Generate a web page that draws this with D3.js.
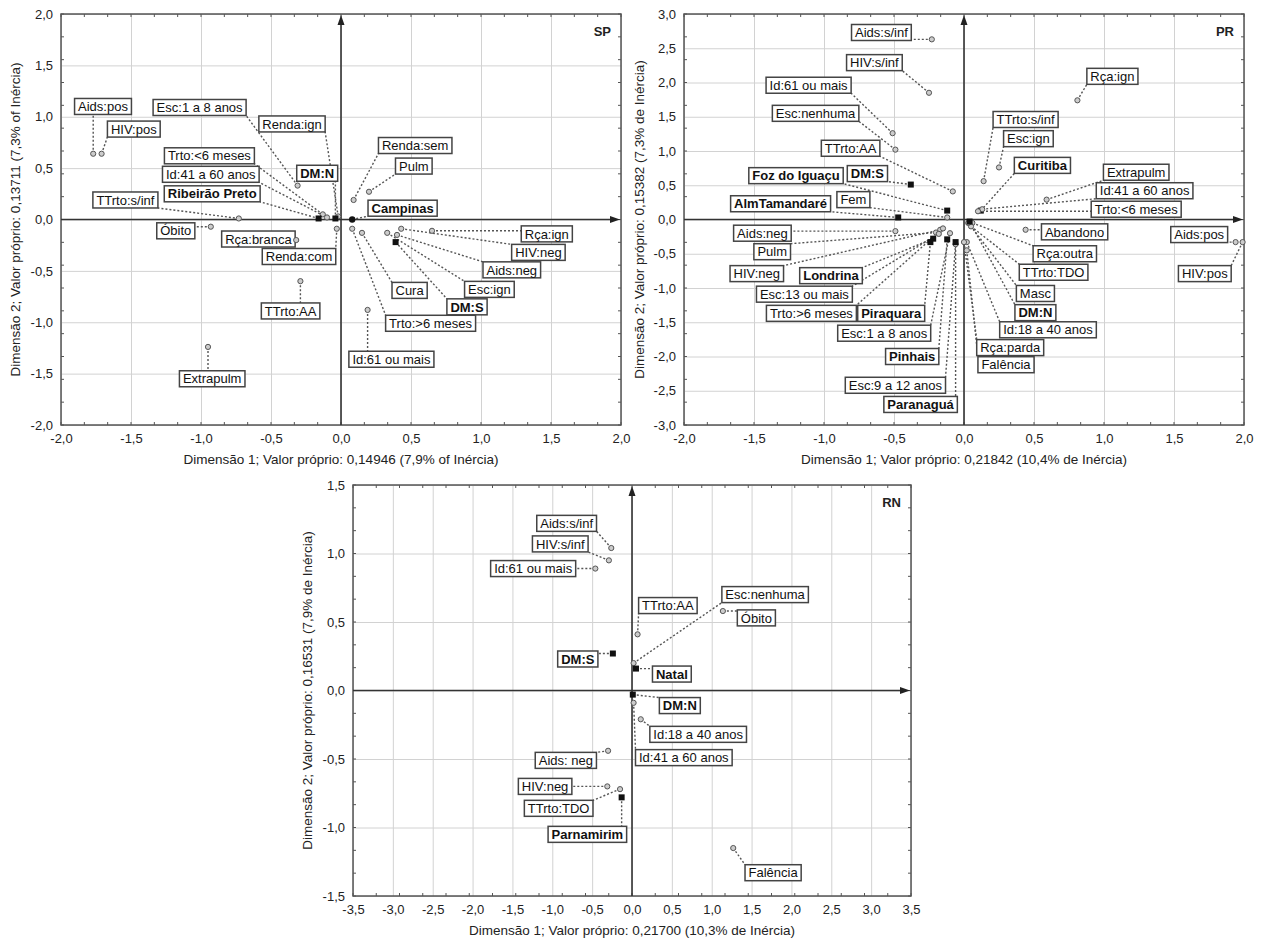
<!DOCTYPE html>
<html>
<head>
<meta charset="utf-8">
<script src="https://cdn.jsdelivr.net/npm/d3@7"></script>
<style>
  body { margin: 0; background: #fff; }
  svg text { font-family: "Liberation Sans", Arial, sans-serif; }
</style>
</head>
<body>
<svg id="chart" width="1262" height="942"></svg>
<script>
// ---- SP ----
var spNames = ["Aids:pos","HIV:pos","Esc:1 a 8 anos","Renda:ign","Trto:<6 meses","Id:41 a 60 anos","Ribeirão Preto","DM:N","TTrto:s/inf","Óbito","Rça:branca","Renda:com","TTrto:AA","Extrapulm","Renda:sem","Pulm","Campinas","Rça:ign","HIV:neg","Aids:neg","Esc:ign","DM:S","Cura","Trto:>6 meses","Id:61 ou mais"];
var spDim1 = [-1.77,-1.71,-0.31,-0.02,-0.13,-0.10,-0.16,-0.04,-0.73,-0.93,-0.32,-0.03,-0.29,-0.95,0.09,0.20,0.08,0.65,0.43,0.40,0.33,0.39,0.15,0.08,0.19];
var spDim2 = [0.64,0.64,0.33,0.03,0.05,0.02,0.01,0.01,0.01,-0.07,-0.20,-0.09,-0.60,-1.24,0.19,0.27,0.00,-0.11,-0.09,-0.15,-0.13,-0.22,-0.13,-0.09,-0.88];
var spLabelAt = [[-1.70,1.10],[-1.48,0.88],[-1.01,1.09],[-0.35,0.93],[-0.94,0.62],[-0.93,0.44],[-0.92,0.25],[-0.17,0.45],[-1.54,0.19],[-1.18,-0.11],[-0.59,-0.19],[-0.30,-0.36],[-0.36,-0.89],[-0.92,-1.55],[0.53,0.72],[0.52,0.52],[0.44,0.11],[1.47,-0.14],[1.41,-0.32],[1.22,-0.49],[1.06,-0.68],[0.90,-0.85],[0.49,-0.69],[0.64,-1.01],[0.36,-1.36]];
var spCities = ["Ribeirão Preto","Campinas","DM:N","DM:S"];

// ---- PR ----
var prNames = ["Aids:s/inf","HIV:s/inf","Id:61 ou mais","Esc:nenhuma","TTrto:AA","DM:S","Foz do Iguaçu","Fem","AlmTamandaré","Aids:neg","Pulm","HIV:neg","Londrina","Esc:13 ou mais","Trto:>6 meses","Piraquara","Esc:1 a 8 anos","Pinhais","Esc:9 a 12 anos","Paranaguá","Rça:ign","TTrto:s/inf","Esc:ign","Curitiba","Extrapulm","Id:41 a 60 anos","Trto:<6 meses","Abandono","Rça:outra","TTrto:TDO","Masc","DM:N","Id:18 a 40 anos","Rça:parda","Falência","Aids:pos","HIV:pos"];
var prDim1 = [-0.23,-0.25,-0.51,-0.49,-0.08,-0.38,-0.12,-0.12,-0.47,-0.49,-0.20,-0.17,-0.22,-0.18,-0.15,-0.24,-0.10,-0.12,-0.06,-0.06,0.81,0.14,0.25,0.12,0.59,0.13,0.10,0.44,0.06,0.05,0.03,0.04,0.02,0.00,0.02,1.94,1.99];
var prDim2 = [2.63,1.85,1.26,1.02,0.41,0.51,0.13,0.03,0.03,-0.17,-0.19,-0.15,-0.28,-0.21,-0.13,-0.33,-0.20,-0.29,-0.36,-0.33,1.74,0.56,0.76,0.13,0.29,0.15,0.12,-0.15,-0.05,-0.10,-0.05,-0.03,-0.33,-0.33,-0.45,-0.33,-0.33];
var prLabelAt = [[-0.59,2.73],[-0.64,2.29],[-1.11,1.96],[-1.06,1.55],[-0.81,1.04],[-0.69,0.67],[-1.20,0.64],[-0.79,0.29],[-1.31,0.23],[-1.44,-0.20],[-1.37,-0.47],[-1.48,-0.79],[-0.95,-0.82],[-1.14,-1.09],[-1.09,-1.37],[-0.52,-1.37],[-0.57,-1.66],[-0.37,-2.00],[-0.49,-2.42],[-0.31,-2.70],[1.06,2.09],[0.44,1.46],[0.46,1.18],[0.56,0.79],[1.23,0.69],[1.29,0.42],[1.23,0.15],[0.79,-0.18],[0.72,-0.50],[0.64,-0.77],[0.51,-1.08],[0.51,-1.36],[0.60,-1.61],[0.33,-1.87],[0.30,-2.12],[1.68,-0.22],[1.72,-0.79]];
var prCities = ["DM:S","DM:N","Foz do Iguaçu","AlmTamandaré","Londrina","Piraquara","Pinhais","Paranaguá","Curitiba"];

// ---- RN ----
var rnNames = ["Aids:s/inf","HIV:s/inf","Id:61 ou mais","DM:S","TTrto:AA","Esc:nenhuma","Óbito","Natal","DM:N","Id:18 a 40 anos","Id:41 a 60 anos","Aids: neg","HIV:neg","TTrto:TDO","Parnamirim","Falência"];
var rnDim1 = [-0.26,-0.29,-0.46,-0.24,0.07,0.02,1.14,0.05,0.01,0.11,0.02,-0.30,-0.31,-0.15,-0.13,1.27];
var rnDim2 = [1.04,0.95,0.89,0.27,0.41,0.20,0.58,0.16,-0.03,-0.21,-0.09,-0.44,-0.70,-0.72,-0.78,-1.15];
var rnLabelAt = [[-0.82,1.22],[-0.90,1.07],[-1.24,0.89],[-0.68,0.23],[0.45,0.62],[1.67,0.70],[1.56,0.53],[0.50,0.12],[0.60,-0.11],[0.83,-0.32],[0.65,-0.49],[-0.83,-0.51],[-1.09,-0.70],[-0.92,-0.86],[-0.56,-1.05],[1.77,-1.33]];
var rnCities = ["DM:S","DM:N","Natal","Parnamirim"];

var ticks4 = [-2,-1.5,-1,-0.5,0,0.5,1,1.5,2];
var ticks6 = [-3,-2.5,-2,-1.5,-1,-0.5,0,0.5,1,1.5,2,2.5,3];
var ticks7 = [-3.5,-3,-2.5,-2,-1.5,-1,-0.5,0,0.5,1,1.5,2,2.5,3,3.5];
var ticks3 = [-1.5,-1,-0.5,0,0.5,1,1.5];

var fmt = function (v) { return d3.format(".1f")(v).replace(".", ",").replace("−", "-"); };
var svg = d3.select("#chart");

function styleAxis(a) {
  a.select(".domain").remove();
  a.selectAll("line").attr("stroke", "#d2d2d2").attr("stroke-width", 1);
  a.selectAll("text").attr("fill", "#222").style("font-size", "13px");
}

function panel(p) {
  var x = d3.scaleLinear().domain(p.xDomain).range([p.left, p.left + p.width]);
  var y = d3.scaleLinear().domain(p.yDomain).range([p.top + p.height, p.top]);
  var g = svg.append("g");

  // grid and tick labels
  g.append("g")
    .attr("transform", "translate(0," + (p.top + p.height) + ")")
    .call(d3.axisBottom(x).tickValues(p.xTicks).tickSize(-p.height).tickPadding(9).tickFormat(fmt))
    .call(styleAxis);
  g.append("g")
    .attr("transform", "translate(" + p.left + ",0)")
    .call(d3.axisLeft(y).tickValues(p.yTicks).tickSize(-p.width).tickPadding(8).tickFormat(fmt))
    .call(styleAxis);

  // small ticks along the frame
  var nx = Math.round(p.width / 23), ny = Math.round(p.height / 23);
  var mt = g.append("g").attr("stroke", "#555").attr("stroke-width", 1);
  d3.range(nx + 1).forEach(function (i) {
    var px = p.left + i * p.width / nx;
    mt.append("line").attr("x1", px).attr("x2", px).attr("y1", p.top).attr("y2", p.top + 3);
    mt.append("line").attr("x1", px).attr("x2", px).attr("y1", p.top + p.height).attr("y2", p.top + p.height - 3);
  });
  d3.range(ny + 1).forEach(function (i) {
    var py = p.top + i * p.height / ny;
    mt.append("line").attr("y1", py).attr("y2", py).attr("x1", p.left).attr("x2", p.left + 3);
    mt.append("line").attr("y1", py).attr("y2", py).attr("x1", p.left + p.width).attr("x2", p.left + p.width - 3);
  });

  // frame
  g.append("rect")
    .attr("x", p.left).attr("y", p.top)
    .attr("width", p.width).attr("height", p.height)
    .attr("fill", "none").attr("stroke", "#555").attr("stroke-width", 1.5);

  // zero axes with arrows
  var x0 = x(0), y0 = y(0);
  g.append("line").attr("x1", x0).attr("x2", x0).attr("y1", p.top + p.height).attr("y2", p.top + 6)
    .attr("stroke", "#333").attr("stroke-width", 1.6);
  g.append("line").attr("x1", p.left).attr("x2", p.left + p.width - 6).attr("y1", y0).attr("y2", y0)
    .attr("stroke", "#333").attr("stroke-width", 1.6);
  g.append("path")
    .attr("d", "M" + x0 + "," + (p.top + 1) + "L" + (x0 - 3.5) + "," + (p.top + 11) + "L" + (x0 + 3.5) + "," + (p.top + 11) + "Z")
    .attr("fill", "#222");
  g.append("path")
    .attr("d", "M" + (p.left + p.width - 1) + "," + y0 + "L" + (p.left + p.width - 11) + "," + (y0 - 3.5) + "L" + (p.left + p.width - 11) + "," + (y0 + 3.5) + "Z")
    .attr("fill", "#222");

  // panel name
  g.append("text")
    .attr("x", p.left + p.width - 10).attr("y", p.top + 22)
    .attr("text-anchor", "end")
    .style("font-size", "13px").style("font-weight", "bold").attr("fill", "#222")
    .text(p.title);

  // axis titles
  g.append("text")
    .attr("x", p.left + p.width / 2).attr("y", p.top + p.height + 39)
    .attr("text-anchor", "middle")
    .style("font-size", "13.5px").attr("fill", "#222")
    .text(p.xTitle);
  g.append("text")
    .attr("transform", "translate(" + p.yTitleX + "," + (p.top + p.height / 2) + ") rotate(-90)")
    .attr("text-anchor", "middle")
    .style("font-size", "13.5px").attr("fill", "#222")
    .text(p.yTitle);

  var pts = p.names.map(function (n, i) {
    return { name: n, x: p.dim1[i], y: p.dim2[i], lx: p.labelAt[i][0], ly: p.labelAt[i][1], city: p.cities.indexOf(n) >= 0 };
  });

  var leaders = g.append("g");
  var boxes = g.append("g");
  var marks = g.append("g");

  pts.forEach(function (d) {
    var cx = x(d.lx), cy = y(d.ly);
    var lab = boxes.append("g");
    var rect = lab.append("rect");
    var t = lab.append("text")
      .attr("x", cx).attr("y", cy)
      .attr("text-anchor", "middle").attr("dy", "0.36em")
      .style("font-size", "13px").style("font-weight", d.city ? "bold" : "normal")
      .attr("fill", "#111")
      .text(d.name);
    var w = t.node().getComputedTextLength() + 7, h = 16;
    var rx0 = cx - w / 2, ry0 = cy - h / 2;
    rect.attr("x", rx0).attr("y", ry0).attr("width", w).attr("height", h)
      .attr("fill", "#fff").attr("stroke", "#444").attr("stroke-width", 1.5);

    var px = x(d.x), py = y(d.y);
    var ex = Math.max(rx0, Math.min(px, rx0 + w));
    var ey = Math.max(ry0, Math.min(py, ry0 + h));
    leaders.append("line")
      .attr("x1", px).attr("y1", py).attr("x2", ex).attr("y2", ey)
      .attr("stroke", "#555").attr("stroke-width", 1.4).attr("stroke-dasharray", "2,2");

    if (d.city) {
      if (d.name == "Campinas") {
        marks.append("circle").attr("cx", px).attr("cy", py).attr("r", 3.2).attr("fill", "#111");
      } else {
        marks.append("rect").attr("x", px - 3).attr("y", py - 3).attr("width", 6).attr("height", 6).attr("fill", "#111");
      }
    } else {
      marks.append("circle").attr("cx", px).attr("cy", py).attr("r", 2.6)
        .attr("fill", "#ccc").attr("stroke", "#555").attr("stroke-width", 1);
    }
  });
}

panel({
  left: 61, top: 14, width: 560, height: 411,
  xDomain: [-2, 2], yDomain: [-2, 2], xTicks: ticks4, yTicks: ticks4,
  names: spNames, dim1: spDim1, dim2: spDim2, labelAt: spLabelAt, cities: spCities,
  title: "SP", yTitleX: 20,
  xTitle: "Dimensão 1; Valor próprio: 0,14946 (7,9% of Inércia)",
  yTitle: "Dimensão 2; Valor próprio: 0,13711 (7,3% of Inércia)"
});

panel({
  left: 684, top: 14, width: 560, height: 411,
  xDomain: [-2, 2], yDomain: [-3, 3], xTicks: ticks4, yTicks: ticks6,
  names: prNames, dim1: prDim1, dim2: prDim2, labelAt: prLabelAt, cities: prCities,
  title: "PR", yTitleX: 644,
  xTitle: "Dimensão 1; Valor próprio: 0,21842 (10,4% de Inércia)",
  yTitle: "Dimensão 2; Valor próprio: 0,15382 (7,3% de Inércia)"
});

panel({
  left: 353, top: 485, width: 558, height: 411,
  xDomain: [-3.5, 3.5], yDomain: [-1.5, 1.5], xTicks: ticks7, yTicks: ticks3,
  names: rnNames, dim1: rnDim1, dim2: rnDim2, labelAt: rnLabelAt, cities: rnCities,
  title: "RN", yTitleX: 312,
  xTitle: "Dimensão 1; Valor próprio: 0,21700 (10,3% de Inércia)",
  yTitle: "Dimensão 2; Valor próprio: 0,16531 (7,9% de Inércia)"
});
</script>
</body>
</html>
